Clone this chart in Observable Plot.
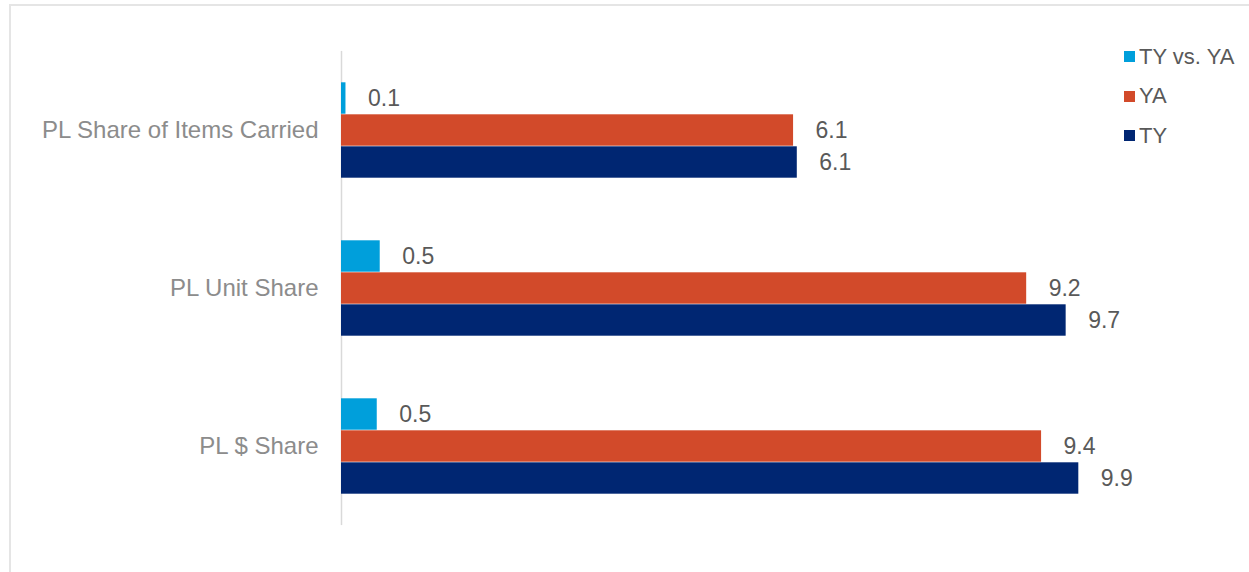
<!DOCTYPE html>
<html>
<head>
<meta charset="utf-8">
<script src="https://cdn.jsdelivr.net/npm/d3@7"></script>
<script src="https://cdn.jsdelivr.net/npm/@observablehq/plot@0.6"></script>
<style>
  html, body { margin: 0; padding: 0; background: #fff; overflow: hidden; }
  #wrap { position: relative; width: 1249px; height: 572px; font-family: "Liberation Sans", Arial, sans-serif; }
  #frame { position: absolute; left: 9px; top: 4px; width: 1260px; height: 600px; border: 2px solid #e5e5e5; box-sizing: border-box; pointer-events: none; }
  #chart { position: absolute; left: 0; top: 0; }
  #legend { position: absolute; left: 1124px; top: 37px; color: #595959; font-size: 22px; }
  .li { display: flex; align-items: center; height: 39.5px; }
  .sw { width: 11px; height: 11px; margin-right: 4px; }
</style>
</head>
<body>
<div id="wrap">
  <div id="frame"></div>
  <div id="chart"></div>
  <div id="legend"></div>
</div>
<script>
const categories = ["PL Share of Items Carried", "PL Unit Share", "PL $ Share"];
const series = ["TY vs. YA", "YA", "TY"];
const tyVsYa = [0.06, 0.52, 0.48];
const ya = [6.07, 9.20, 9.40];
const ty = [6.12, 9.73, 9.90];
const colors = ["#009fdb", "#d24a2a", "#002672"];

const seriesValues = [tyVsYa, ya, ty];
const data = [];
categories.forEach((c, i) => {
  series.forEach((s, j) => {
    data.push({category: c, series: s, value: seriesValues[j][i]});
  });
});

const W = 1249, H = 572;
const mTop = 50, mBottom = 47, mLeft = 341, mRight = 126;
const padInner = 0.38, padOuter = 0.19;
const step = (H - mTop - mBottom) / (categories.length - padInner + 2 * padOuter);
const ext = step * padOuter; // extend the axis rule through the gaps
const fmt = d3.format(".1f");

const chart = Plot.plot({
  width: W,
  height: H,
  marginTop: mTop,
  marginBottom: mBottom,
  marginLeft: mLeft,
  marginRight: mRight,
  style: {fontFamily: "'Liberation Sans', Arial, sans-serif", fontSize: "22px", color: "#595959", background: "transparent"},
  x: {domain: [0, 10.5], axis: null},
  y: {domain: series, padding: 0, axis: null},
  fy: {domain: categories, paddingInner: padInner, paddingOuter: padOuter, label: null},
  color: {domain: series, range: colors},
  marks: [
    Plot.ruleX([0], {stroke: "#d9d9d9", strokeWidth: 1.5, insetTop: -ext, insetBottom: -ext}),
    Plot.barX(data, {x: "value", y: "series", fy: "category", fill: "series", insetTop: 0.3, insetBottom: 0.3}),
    Plot.text(data, {x: "value", y: "series", fy: "category", text: d => fmt(d.value), textAnchor: "start", dx: 22, fontSize: 23, fill: "#595959"}),
    Plot.axisFy({anchor: "left", tickSize: 0, tickPadding: 23, fontSize: 24, fill: "#8c8c8c", label: null})
  ]
});
document.getElementById("chart").appendChild(chart);

const legend = document.getElementById("legend");
series.forEach((s, j) => {
  const row = document.createElement("div");
  row.className = "li";
  const sw = document.createElement("span");
  sw.className = "sw";
  sw.style.background = colors[j];
  const t = document.createElement("span");
  t.textContent = s;
  row.appendChild(sw);
  row.appendChild(t);
  legend.appendChild(row);
});
</script>
</body>
</html>
